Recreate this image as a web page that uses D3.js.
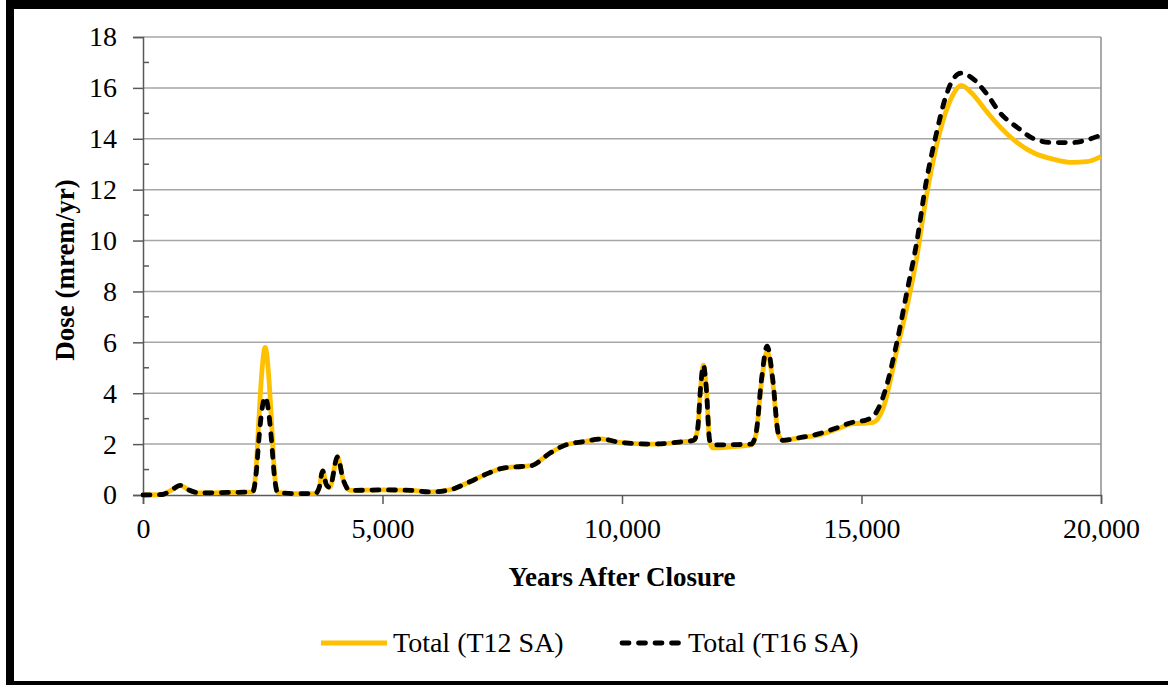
<!DOCTYPE html>
<html><head><meta charset="utf-8">
<script src="https://cdn.jsdelivr.net/npm/d3@7"></script>
<style>body{margin:0;background:#fff}svg{display:block}</style>
</head><body>
<svg id="c" width="1168" height="685"></svg>
<script>
const years = [0,400,600,780,950,1200,1800,2290,2360,2420,2480,2550,2620,2680,2740,2810,3200,3600,3680,3750,3830,3900,4060,4180,4320,5000,5600,6000,6400,6800,7200,7500,7900,8100,8500,8800,9200,9580,9950,10600,11200,11500,11580,11640,11700,11760,11830,11900,12300,12700,12800,12910,13030,13150,13260,13360,13700,14100,14500,14800,15100,15250,15450,15750,15950,16150,16350,16550,16750,16900,17080,17300,17600,17900,18250,18600,19000,19400,19700,20000];
const t12 = [0,0.02,0.2,0.38,0.2,0.08,0.1,0.12,1.0,3.0,4.8,5.8,4.8,3.0,1.0,0.1,0.05,0.06,0.3,0.95,0.4,0.3,1.5,0.6,0.18,0.2,0.18,0.12,0.2,0.5,0.85,1.05,1.12,1.15,1.65,1.95,2.1,2.2,2.07,2.0,2.08,2.15,2.6,4.2,5.1,4.2,2.1,1.85,1.9,1.97,2.4,4.4,5.65,4.4,2.4,2.15,2.25,2.35,2.6,2.8,2.83,2.85,3.4,5.8,7.4,9.3,11.7,13.6,15.0,15.7,16.1,15.8,15.1,14.45,13.85,13.44,13.2,13.07,13.1,13.3];
const t16 = [0,0.02,0.2,0.38,0.2,0.08,0.1,0.12,0.8,2.2,3.3,3.85,3.3,2.2,0.8,0.1,0.05,0.06,0.3,0.95,0.4,0.3,1.5,0.6,0.18,0.2,0.18,0.12,0.2,0.5,0.85,1.05,1.12,1.15,1.65,1.95,2.1,2.2,2.07,2.0,2.08,2.15,2.6,4.2,5.1,4.2,2.15,1.97,1.98,2.0,2.45,4.5,5.85,4.5,2.45,2.15,2.25,2.4,2.65,2.85,2.95,3.1,3.85,6.1,8.0,9.9,12.3,14.1,15.6,16.3,16.58,16.4,15.8,15.0,14.45,14.0,13.85,13.85,13.95,14.15];
const xTicks = [0,5000,10000,15000,20000];
const yTicks = [0,2,4,6,8,10,12,14,16,18];
const seriesNames = ["Total (T12 SA)","Total (T16 SA)"];

const svg = d3.select("#c");
const x = d3.scaleLinear().domain([0,20000]).range([143,1101]);
const y = d3.scaleLinear().domain([0,18]).range([495,37]);
const serif = "'Liberation Serif','Times New Roman',serif";

// outer frame
svg.append("rect").attr("x",6).attr("y",0).attr("width",1162).attr("height",9).attr("fill","#000");
svg.append("rect").attr("x",6).attr("y",0).attr("width",8).attr("height",685).attr("fill","#000");
svg.append("rect").attr("x",6).attr("y",681).attr("width",1162).attr("height",4).attr("fill","#000");

// gridlines
svg.append("g").selectAll("line").data(yTicks.filter(d=>d>0)).join("line")
  .attr("x1",x(0)).attr("x2",x(20000)).attr("y1",d=>y(d)).attr("y2",d=>y(d))
  .attr("stroke","#a6a6a6").attr("stroke-width",1.5);
// right border of plot
svg.append("line").attr("x1",x(20000)).attr("x2",x(20000)).attr("y1",y(18)).attr("y2",y(0))
  .attr("stroke","#8c8c8c").attr("stroke-width",1.5);

// y axis
const yAx = svg.append("g").attr("transform",`translate(${x(0)},0)`)
  .call(d3.axisLeft(y).tickValues(yTicks).tickSize(10).tickPadding(16).tickFormat(d3.format("d")));
yAx.select(".domain").attr("stroke","#595959").attr("stroke-width",1.5);
yAx.selectAll(".tick line").attr("stroke","#595959").attr("stroke-width",1.5);
yAx.selectAll("text").attr("font-family",serif).attr("font-size",28).attr("fill","#000");
// minor ticks
svg.append("g").selectAll("line").data(d3.range(1,18,2)).join("line")
  .attr("x1",x(0)).attr("x2",x(0)+6).attr("y1",d=>y(d)).attr("y2",d=>y(d))
  .attr("stroke","#595959").attr("stroke-width",1.5);

// x axis
const xAx = svg.append("g").attr("transform",`translate(0,${y(0)})`)
  .call(d3.axisBottom(x).tickValues(xTicks).tickSize(9).tickPadding(14).tickFormat(d3.format(",")));
xAx.select(".domain").attr("stroke","#595959").attr("stroke-width",1.5);
xAx.selectAll(".tick line").attr("stroke","#595959").attr("stroke-width",1.5);
xAx.selectAll("text").attr("font-family",serif).attr("font-size",28).attr("fill","#000");

// lines
const line = v => d3.line().x((d,i)=>x(years[i])).y(d=>y(d)).curve(d3.curveMonotoneX)(v);
svg.append("path").attr("d",line(t12)).attr("fill","none").attr("stroke","#FFC000").attr("stroke-width",4.8);
svg.append("path").attr("d",line(t16)).attr("fill","none").attr("stroke","#000").attr("stroke-width",4.8)
  .attr("stroke-dasharray","7,9.5").attr("stroke-linecap","round");

// titles
svg.append("text").attr("x",622).attr("y",586).attr("text-anchor","middle")
  .attr("font-family",serif).attr("font-weight","bold").attr("font-size",27).text("Years After Closure");
svg.append("text").attr("transform","translate(74,270) rotate(-90)").attr("text-anchor","middle")
  .attr("font-family",serif).attr("font-weight","bold").attr("font-size",27).text("Dose (mrem/yr)");

// legend
const lg = svg.append("g");
lg.append("line").attr("x1",321).attr("x2",387).attr("y1",643).attr("y2",643).attr("stroke","#FFC000").attr("stroke-width",4.8);
lg.append("text").attr("x",393).attr("y",652).attr("font-family",serif).attr("font-size",28).text(seriesNames[0]);
lg.append("line").attr("x1",622).attr("x2",684).attr("y1",643).attr("y2",643).attr("stroke","#000").attr("stroke-width",4.8)
  .attr("stroke-dasharray","7,9.5").attr("stroke-linecap","round");
lg.append("text").attr("x",688).attr("y",652).attr("font-family",serif).attr("font-size",28).text(seriesNames[1]);
</script>
</body></html>
